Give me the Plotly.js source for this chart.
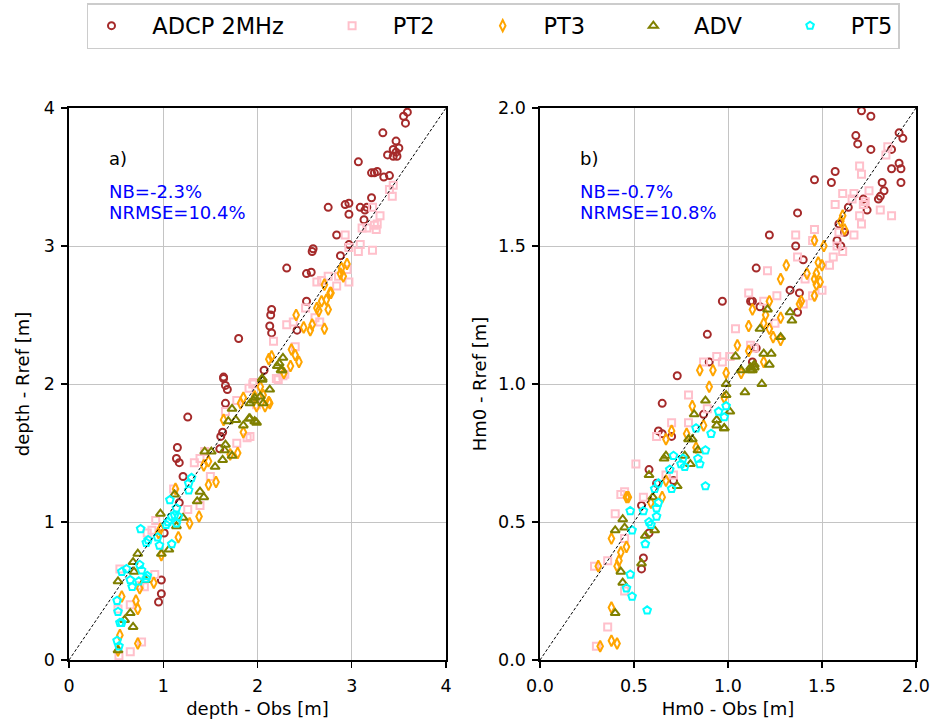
<!DOCTYPE html>
<html>
<head>
<meta charset="utf-8">
<script src="https://cdn.plot.ly/plotly-3.0.1.min.js"></script>
<style>
  html, body { margin: 0; padding: 0; background: #fff; }
  #chart { width: 941px; height: 723px; }
</style>
</head>
<body>
<div id="chart"></div>
<script>
// ---- Series names ----
const seriesNames = ['ADCP 2MHz', 'PT2', 'PT3', 'ADV', 'PT5'];

// ---- Panel a): water depth, reference vs observed [m] ----
const depthAdcpObs = [3.59,3.55,3.57,3.33,3.47,3.50,3.44,3.38,3.44,3.48,3.47,3.07,3.21,3.24,3.27,3.34,3.40,3.21,2.75,2.93,2.97,3.09,3.14,3.16,2.97,3.13,2.84,2.59,2.58,2.88,2.97,2.31,2.52,2.57,2.52,2.15,2.14,2.13,2.15,2.42,2.07,1.80,1.64,1.64,1.66,1.68,1.66,1.26,1.63,1.61,1.60,1.15,1.14,1.17,1.21,1.17,1.01,0.98,0.98,0.95];
const depthAdcpRef = [3.97,3.94,3.89,3.82,3.76,3.71,3.70,3.66,3.65,3.65,3.68,3.61,3.53,3.53,3.54,3.50,3.51,3.35,3.28,3.30,3.31,3.28,3.26,3.28,3.23,3.19,3.08,2.98,2.96,2.93,3.01,2.84,2.80,2.81,2.60,2.54,2.50,2.42,2.37,2.39,2.10,2.33,2.05,2.04,1.99,1.96,1.86,1.76,1.65,1.62,1.53,1.54,1.46,1.43,1.33,1.14,0.92,0.58,0.48,0.42];

const depthPt2Obs = [3.44,3.40,3.43,3.22,3.30,3.27,3.24,3.16,3.26,3.11,2.93,3.09,3.07,3.22,2.97,2.75,2.63,2.68,2.84,2.86,2.97,2.95,2.51,2.38,2.31,2.66,2.61,2.17,2.40,2.27,2.20,2.22,2.29,1.96,1.99,1.92,1.95,1.91,1.78,1.66,1.78,1.89,1.33,1.39,1.44,1.50,1.11,1.26,1.39,0.92,0.88,0.83,0.54,0.91,0.80,0.75,0.65,0.77,0.65,0.53,0.52];
const depthPt2Ref = [3.44,3.41,3.36,3.28,3.22,3.16,3.15,3.13,3.12,3.13,3.08,3.01,2.96,2.97,2.99,2.78,2.74,2.75,2.71,2.78,2.74,2.83,2.55,2.45,2.43,2.45,2.48,2.31,2.27,2.06,2.04,2.03,2.07,2.01,1.85,1.62,2.00,1.97,1.88,1.80,1.57,1.61,1.43,1.46,1.51,1.33,1.24,1.09,1.12,1.01,0.94,0.92,0.66,0.62,0.53,0.54,0.40,0.13,0.06,0.03,0.37];

const depthPt3Obs = [2.95,2.89,2.88,2.91,2.71,2.77,2.78,2.73,2.68,2.75,2.63,2.65,2.58,2.56,2.71,2.49,2.41,2.36,2.40,2.44,2.35,2.12,2.15,2.08,2.12,2.13,2.06,2.28,2.03,1.82,1.85,1.97,1.99,1.64,1.85,1.71,1.79,1.43,1.48,1.13,1.48,1.56,1.38,1.28,1.16,0.97,0.95,0.98,0.90,0.75,0.56,0.71,0.73,0.54,0.73,0.52];
const depthPt3Ref = [2.87,2.84,2.80,2.78,2.72,2.66,2.66,2.61,2.60,2.54,2.55,2.53,2.43,2.39,2.40,2.41,2.50,2.25,2.21,2.16,2.13,2.18,2.20,1.84,1.87,1.86,1.92,2.08,1.98,1.86,1.90,1.91,1.84,1.74,1.65,1.49,1.50,1.41,1.44,1.24,1.27,1.29,1.04,0.99,0.89,0.95,0.92,0.76,0.56,0.52,0.46,0.43,0.37,0.18,0.12,0.07];

const depthAdvObs = [2.27,2.23,2.25,2.21,2.05,2.05,2.13,1.96,2.03,2.06,1.97,1.92,2.26,1.97,1.92,1.99,1.91,1.85,1.73,1.69,1.77,1.66,1.65,1.51,1.44,1.63,1.73,1.55,1.39,1.43,1.36,1.12,0.97,1.14,1.21,1.06,0.98,0.73,0.68,0.69,0.81,0.52,0.65,0.59,0.68,0.52];
const depthAdvRef = [2.19,2.15,2.10,2.13,2.04,2.03,1.96,1.88,1.91,1.86,1.73,1.75,2.10,1.90,1.86,1.72,1.75,1.70,1.82,1.73,1.74,1.56,1.52,1.51,1.51,1.45,1.48,1.40,1.22,1.18,1.15,1.20,1.06,0.97,1.03,0.80,0.77,0.77,0.71,0.64,0.58,0.57,0.34,0.29,0.24,0.07];

const depthPt5Obs = [1.30,1.27,1.27,1.07,1.14,1.09,1.12,1.16,1.05,1.03,1.14,0.76,0.84,0.82,0.94,0.96,1.09,0.56,0.61,0.65,0.67,0.74,0.77,0.75,0.83,0.82,0.51,0.52,0.54,0.56,0.51,0.53];
const depthPt5Ref = [1.32,1.28,1.23,1.16,1.10,1.04,1.05,1.04,1.00,0.98,0.99,0.95,0.87,0.85,0.89,0.83,0.84,0.64,0.66,0.58,0.53,0.57,0.65,0.69,0.61,0.59,0.43,0.35,0.27,0.27,0.14,0.10];

// ---- Panel b): significant wave height Hm0, reference vs observed [m] ----
const hm0AdcpObs = [1.71,1.76,1.68,1.69,1.76,1.91,1.93,1.87,1.91,1.92,1.87,1.92,1.82,1.83,1.81,1.80,1.57,1.55,1.46,1.72,1.74,1.64,1.59,1.62,1.58,1.60,1.37,1.22,1.36,1.40,1.15,1.33,1.38,1.37,1.12,1.13,1.17,0.97,1.15,1.13,0.89,0.90,0.73,0.65,0.63,0.65,0.70,0.58,0.62,0.71,0.54,0.58,0.55,0.54,0.87];
const hm0AdcpRef = [1.99,1.97,1.90,1.87,1.85,1.91,1.89,1.85,1.80,1.78,1.78,1.73,1.73,1.70,1.68,1.67,1.77,1.73,1.74,1.67,1.63,1.64,1.58,1.55,1.52,1.50,1.62,1.54,1.50,1.45,1.42,1.34,1.33,1.26,1.30,1.30,1.28,1.30,1.13,1.08,1.18,1.08,1.03,0.93,0.83,0.82,0.81,0.69,0.64,0.65,0.56,0.46,0.37,0.33,0.89];

const hm0Pt2Obs = [1.85,1.84,1.70,1.71,1.61,1.67,1.75,1.73,1.66,1.57,1.72,1.81,1.87,1.70,1.71,1.67,1.46,1.36,1.45,1.59,1.58,1.61,1.56,1.54,1.37,1.21,1.41,1.50,1.45,1.40,1.26,1.25,1.19,1.11,1.04,1.01,1.14,1.12,0.87,0.94,0.97,1.01,0.79,0.70,0.79,0.62,0.51,0.43,0.45,0.55,0.40,0.67,0.71,0.45,0.36,0.29,0.45,0.36,0.30,0.89];
const hm0Pt2Ref = [1.86,1.83,1.79,1.76,1.69,1.69,1.70,1.66,1.67,1.65,1.65,1.63,1.61,1.61,1.58,1.54,1.56,1.54,1.52,1.55,1.50,1.48,1.46,1.43,1.46,1.41,1.38,1.34,1.32,1.29,1.32,1.22,1.30,1.33,1.20,1.10,1.13,1.14,1.08,1.10,1.08,1.10,0.96,0.86,0.86,0.81,0.71,0.60,0.61,0.59,0.53,0.67,0.67,0.44,0.36,0.34,0.25,0.12,0.05,0.91];

const hm0Pt3Obs = [1.61,1.60,1.62,1.46,1.51,1.48,1.50,1.42,1.47,1.46,1.47,1.49,1.46,1.31,1.28,1.39,1.38,1.28,1.22,1.13,1.11,1.20,1.19,1.22,1.24,1.28,1.19,1.05,1.11,1.07,0.85,0.92,0.99,0.90,0.81,0.98,0.78,0.83,0.87,0.70,0.67,0.67,0.65,0.46,0.47,0.59,0.38,0.43,0.46,0.42,0.41,0.31,0.38,0.38,0.41,0.32];
const hm0Pt3Ref = [1.61,1.59,1.56,1.52,1.50,1.44,1.43,1.40,1.40,1.38,1.36,1.37,1.32,1.43,1.38,1.30,1.29,1.24,1.30,1.27,1.21,1.25,1.22,1.20,1.17,1.16,1.08,1.14,1.12,1.04,1.05,1.05,1.04,0.99,0.92,0.95,0.82,0.77,0.85,0.83,0.80,0.65,0.59,0.59,0.59,0.57,0.44,0.39,0.41,0.36,0.34,0.34,0.19,0.07,0.06,0.05];

const hm0AdvObs = [1.21,1.33,1.34,1.17,1.28,1.04,1.19,1.23,1.22,1.14,1.14,1.12,1.07,1.12,0.99,1.09,1.18,0.99,1.01,0.98,1.13,0.88,0.82,0.94,0.94,0.98,0.81,0.79,0.84,0.80,0.77,0.66,0.67,0.58,0.73,0.60,0.44,0.45,0.40,0.61,0.56,0.54,0.43,0.44,0.40];
const hm0AdvRef = [1.27,1.26,1.23,1.20,1.17,1.10,1.11,1.11,1.07,1.07,1.06,1.06,1.05,1.05,1.00,0.97,1.00,0.96,0.90,0.84,1.05,0.94,0.89,0.87,0.85,0.84,0.80,0.80,0.76,0.71,0.74,0.73,0.74,0.67,0.63,0.59,0.51,0.48,0.47,0.47,0.45,0.35,0.32,0.28,0.17];

const hm0Pt5Obs = [0.99,0.98,0.95,0.91,0.83,0.88,0.84,0.85,0.76,0.77,0.75,0.71,0.69,0.70,0.63,0.61,0.63,0.62,0.62,0.55,0.48,0.58,0.59,0.49,0.56,0.48,0.46,0.49,0.57,0.88];
const hm0Pt5Ref = [0.92,0.88,0.90,0.82,0.84,0.76,0.73,0.71,0.73,0.70,0.71,0.74,0.69,0.62,0.64,0.62,0.57,0.55,0.52,0.54,0.54,0.50,0.49,0.47,0.42,0.31,0.26,0.23,0.18,0.63];

// 1:1 reference lines
const depthDiag = [0, 4];
const hm0Diag = [0, 2];

// Tick values
const depthTicks = [0, 1, 2, 3, 4];
const hm0Ticks = [0, 0.5, 1.0, 1.5, 2.0];

// Statistics text
const statsA = ['NB=-2.3%', 'NRMSE=10.4%'];
const statsB = ['NB=-0.7%', 'NRMSE=10.8%'];

// ---- Styling ----
const FONT = 'DejaVu Sans, Liberation Sans, sans-serif';
const styles = [
  { symbol: 'circle-open',       color: '#a52a2a', size: 7 },
  { symbol: 'square-open',       color: '#ffc0cb', size: 7 },
  { symbol: 'diamond-tall-open', color: '#ffa500', size: 8 },
  { symbol: 'triangle-up-open',  color: '#808000', size: 8 },
  { symbol: 'pentagon-open',     color: '#00ffff', size: 8 }
];
// Wider gaps around each legend label (en / em / thin spaces keep their width in SVG)
const LEAD = '\u2002\u2009';
const TRAIL = '\u2003\u2002\u2009';

const depthSets = [
  [depthAdcpObs, depthAdcpRef], [depthPt2Obs, depthPt2Ref], [depthPt3Obs, depthPt3Ref],
  [depthAdvObs, depthAdvRef], [depthPt5Obs, depthPt5Ref]
];
const hm0Sets = [
  [hm0AdcpObs, hm0AdcpRef], [hm0Pt2Obs, hm0Pt2Ref], [hm0Pt3Obs, hm0Pt3Ref],
  [hm0AdvObs, hm0AdvRef], [hm0Pt5Obs, hm0Pt5Ref]
];

const traces = [];
function scatter(x, y, i, xa, ya, showLegend) {
  const s = styles[i];
  const last = i === seriesNames.length - 1;
  return {
    type: 'scatter', mode: 'markers', x: x, y: y,
    name: LEAD + seriesNames[i] + (last ? '' : TRAIL),
    legendgroup: seriesNames[i], showlegend: showLegend,
    xaxis: xa, yaxis: ya, cliponaxis: true,
    marker: { symbol: s.symbol, size: s.size, color: s.color, line: { color: s.color, width: 2 } }
  };
}
depthSets.forEach((d, i) => traces.push(scatter(d[0], d[1], i, 'x', 'y', true)));
traces.push({
  type: 'scatter', mode: 'lines', x: depthDiag, y: depthDiag, xaxis: 'x', yaxis: 'y',
  showlegend: false, hoverinfo: 'skip',
  line: { color: '#000', width: 1, dash: '3px,2px' }
});
hm0Sets.forEach((d, i) => traces.push(scatter(d[0], d[1], i, 'x2', 'y2', false)));
traces.push({
  type: 'scatter', mode: 'lines', x: hm0Diag, y: hm0Diag, xaxis: 'x2', yaxis: 'y2',
  showlegend: false, hoverinfo: 'skip',
  line: { color: '#000', width: 1, dash: '3px,2px' }
});

const W = 941, H = 723;
function axis(domain, range, ticks, title, fmt, anchor, standoff) {
  return {
    domain: domain, range: range, anchor: anchor,
    tickmode: 'array', tickvals: ticks, tickformat: fmt,
    ticks: 'outside', ticklen: 6, tickwidth: 1.3, tickcolor: '#000',
    ticklabelstandoff: 3,
    showline: true, linecolor: '#000', linewidth: 1.6, mirror: true,
    showgrid: true, gridcolor: '#c4c4c4', gridwidth: 1, zeroline: false,
    tickfont: { family: FONT, size: 17.5, color: '#000' },
    title: { text: title, font: { family: FONT, size: 18, color: '#000' }, standoff: standoff },
    automargin: false
  };
}
const yDom = [(H - 660) / H, (H - 108) / H];

const annotations = [];
function panelText(xref, yref, label, stats) {
  annotations.push({ xref: xref, yref: yref, x: 0.1, y: 0.909, xanchor: 'left', yanchor: 'middle',
    text: label, showarrow: false, font: { family: FONT, size: 18, color: '#000' } });
  annotations.push({ xref: xref, yref: yref, x: 0.1, y: 0.848, xanchor: 'left', yanchor: 'middle',
    text: stats[0], showarrow: false, font: { family: FONT, size: 18, color: '#0000ff' } });
  annotations.push({ xref: xref, yref: yref, x: 0.1, y: 0.810, xanchor: 'left', yanchor: 'middle',
    text: stats[1], showarrow: false, font: { family: FONT, size: 18, color: '#0000ff' } });
}
panelText('x domain', 'y domain', 'a)', statsA);
panelText('x2 domain', 'y2 domain', 'b)', statsB);

const layout = {
  width: W, height: H,
  margin: { l: 0, r: 0, t: 0, b: 0, autoexpand: false },
  paper_bgcolor: '#fff', plot_bgcolor: '#fff',
  font: { family: FONT, color: '#000' },
  xaxis: axis([69 / W, 446 / W], [0, 4], depthTicks, 'depth - Obs [m]', '', 'y', 8),
  yaxis: axis(yDom, [0, 4], depthTicks, 'depth - Rref [m]', '', 'x', 9),
  xaxis2: axis([540 / W, 916 / W], [0, 2], hm0Ticks, 'Hm0 - Obs [m]', '.1f', 'y2', 8),
  yaxis2: axis(yDom, [0, 2], hm0Ticks, 'Hm0 - Rref [m]', '.1f', 'x2', 7),
  annotations: annotations,
  showlegend: true,
  legend: {
    orientation: 'h', x: 493 / W, xanchor: 'center', y: 1 - 3 / H, yanchor: 'top',
    bordercolor: '#cccccc', borderwidth: 1.5, bgcolor: '#fff',
    font: { family: FONT, size: 22.5, color: '#000' },
    itemwidth: 40, tracegroupgap: 0
  }
};

Plotly.newPlot('chart', traces, layout, { staticPlot: true, displayModeBar: false });
</script>
</body>
</html>
